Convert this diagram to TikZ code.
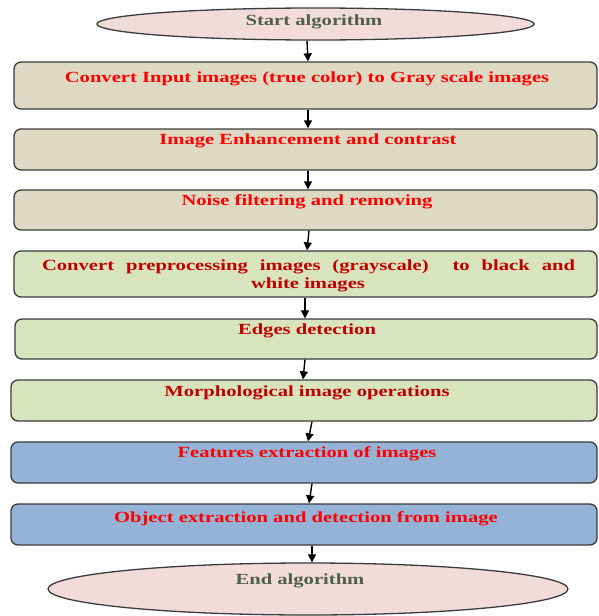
\documentclass[tikz,border=0pt]{standalone}
\usepackage{fontspec}
\setmainfont{Liberation Serif}
\newfontfamily\boxfont[FakeStretch=1.33]{Liberation Serif}
\usetikzlibrary{arrows.meta,shapes.geometric}
\definecolor{tanfill}{RGB}{221,217,195}
\definecolor{greenfill}{RGB}{215,228,189}
\definecolor{bluefill}{RGB}{149,179,215}
\definecolor{pinkfill}{RGB}{242,220,219}
\definecolor{redtxt}{RGB}{255,0,0}
\definecolor{darkred}{RGB}{192,0,0}
\definecolor{termtxt}{RGB}{78,96,72}
\definecolor{edge}{RGB}{60,60,60}
\tikzset{
  stepbox/.style={draw=edge, line width=1.3pt, rounded corners=7pt, inner sep=0pt},
  term/.style={ellipse, draw=edge, line width=1.3pt, fill=pinkfill, inner sep=0pt},
  txt/.style={inner sep=0pt, font=\boxfont\bfseries\fontsize{15.5}{18}\selectfont},
  arr/.style={line width=1.4pt, -{Triangle[length=8pt,width=8pt]}},
}
\begin{document}
\begin{tikzpicture}[x=1pt,y=-1pt]
\useasboundingbox (0,0) rectangle (598,616);
% terminals
\node[term, minimum width=437pt, minimum height=32pt] (s) at (315.5,24) {};
\node[term, minimum width=520pt, minimum height=52pt] (e) at (308,589) {};
% boxes
\node[stepbox, fill=tanfill, minimum width=583pt, minimum height=47pt] (b1) at (305.5,85.5) {};
\node[stepbox, fill=tanfill, minimum width=583pt, minimum height=41pt] (b2) at (305.5,149.5) {};
\node[stepbox, fill=tanfill, minimum width=583pt, minimum height=40pt] (b3) at (305.5,210) {};
\node[stepbox, fill=greenfill, minimum width=583pt, minimum height=46pt] (b4) at (305.5,274) {};
\node[stepbox, fill=greenfill, minimum width=582pt, minimum height=40pt] (b5) at (306,339) {};
\node[stepbox, fill=greenfill, minimum width=586pt, minimum height=41pt] (b6) at (304,400.5) {};
\node[stepbox, fill=bluefill, minimum width=586pt, minimum height=41pt] (b7) at (304,462.5) {};
\node[stepbox, fill=bluefill, minimum width=586pt, minimum height=41pt] (b8) at (304,524.5) {};
% texts
\node[txt, text=termtxt] (ts) at (314,22) {Start algorithm};
\node[txt, text=redtxt] (t1) at (307,79) {Convert Input images (true color) to Gray scale images};
\node[txt, text=redtxt] (t2) at (308,141) {Image Enhancement and contrast};
\node[txt, text=redtxt] (t3) at (307,202) {Noise filtering and removing};
\node[txt, text=darkred] (t4a) at (308.5,267) {\makebox[533pt][s]{Convert preprocessing images (grayscale)\ \ to black and}};
\node[txt, text=darkred] (t4b) at (308,285) {white images};
\node[txt, text=darkred] (t5) at (307,331) {Edges detection};
\node[txt, text=darkred] (t6) at (307,393) {Morphological image operations};
\node[txt, text=redtxt] (t7) at (307,454) {Features extraction of images};
\node[txt, text=redtxt] (t8) at (306,519) {Object extraction and detection from image};
\node[txt, text=termtxt] (te) at (300,581) {End algorithm};
% connectors
\draw[arr] ([xshift=-8.5pt]s.south) -- ([xshift=2.5pt]b1.north);
\draw[arr] ([xshift=2.5pt]b1.south) -- ([xshift=2.5pt]b2.north);
\draw[arr] ([xshift=2.5pt]b2.south) -- ([xshift=2.5pt]b3.north);
\draw[arr] ([xshift=3.5pt]b3.south) -- ([xshift=1.5pt]b4.north);
\draw[arr] ([xshift=-0.5pt]b4.south) -- ([xshift=-1pt]b5.north);
\draw[arr] ([xshift=-1pt]b5.south) -- ([xshift=-1pt]b6.north);
\draw[arr] ([xshift=8pt]b6.south) -- ([xshift=4pt]b7.north);
\draw[arr] ([xshift=8pt]b7.south) -- ([xshift=5pt]b8.north);
\draw[arr] ([xshift=8pt]b8.south) -- ([xshift=4pt]e.north);
\end{tikzpicture}
\end{document}
